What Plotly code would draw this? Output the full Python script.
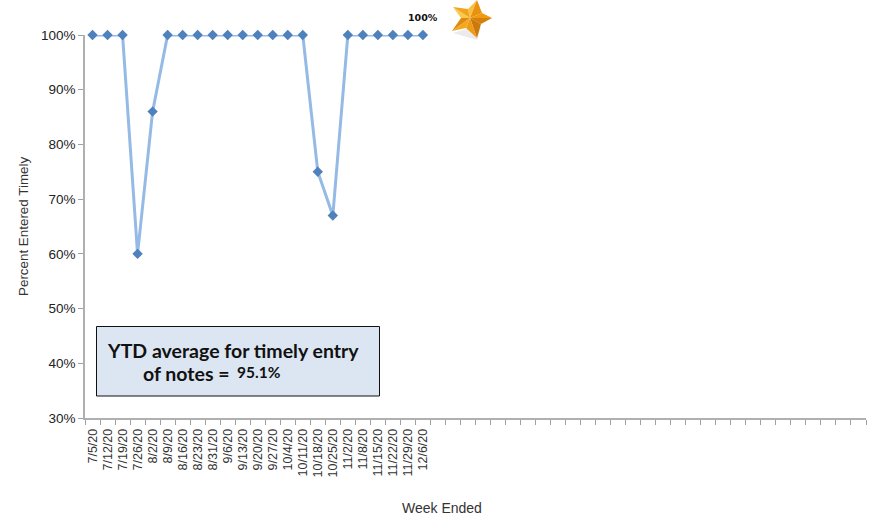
import plotly.graph_objects as go

weeks = ["7/5/20","7/12/20","7/19/20","7/26/20","8/2/20","8/9/20","8/16/20","8/23/20",
         "8/31/20","9/6/20","9/13/20","9/20/20","9/27/20","10/4/20","10/11/20","10/18/20",
         "10/25/20","11/2/20","11/8/20","11/15/20","11/22/20","11/29/20","12/6/20"]
percent = [100,100,100,60,86,100,100,100,100,100,100,100,100,100,100,75,67,100,100,100,100,100,100]
y_ticks = [30,40,50,60,70,80,90,100]
total_slots = 52
blank_slots = ["\u00a0" * (i + 1) for i in range(total_slots - len(weeks))]

W, H = 877, 515
L, R, T, B = 85, 866, 35, 418
px = lambda x: (x - L) / (R - L)
py = lambda y: (B - y) / (B - T)

def path(points):
    return "M " + " L ".join(f"{px(x):.5f},{py(y):.5f}" for x, y in points) + " Z"

fig = go.Figure(go.Scatter(
    x=weeks, y=percent, mode="lines+markers",
    line=dict(color="#95BAE6", width=3),
    marker=dict(symbol="diamond", size=8, color="#4F81BD"),
    cliponaxis=False, showlegend=False, hoverinfo="skip",
))

c = (470, 18)
tips = [(477, 0), (492, 18), (477, 38), (452, 31), (453, 7)]
inner = [(482, 13), (481, 24), (466, 28), (461, 18), (468, 9)]
light = ["#F9C040", "#F09A10", "#C97A0A", "#F5A81E", "#FBC84E"]
dark = ["#E8920F", "#D67F0A", "#EE9C14", "#DE8A0C", "#EFA51C"]
shapes = [dict(type="path", xref="paper", yref="paper",
               path=path([(453, 33), (477, 40), (481, 27), (466, 29)]),
               fillcolor="rgba(120,120,120,0.15)", line_width=0, layer="above")]
for i in range(5):
    shapes.append(dict(type="path", xref="paper", yref="paper",
                       path=path([c, inner[i - 1], tips[i]]),
                       fillcolor=light[i], line_width=0, layer="above"))
    shapes.append(dict(type="path", xref="paper", yref="paper",
                       path=path([c, tips[i], inner[i]]),
                       fillcolor=dark[i], line_width=0, layer="above"))
shapes.append(dict(type="rect", xref="paper", yref="paper",
                   x0=px(96.5), x1=px(379.5), y0=py(396), y1=py(326.5),
                   fillcolor="#DCE6F2", line=dict(color="#111111", width=1), layer="above"))

def note(text, x, y, size, family="Lato", bold=True):
    return dict(text=f"<b>{text}</b>" if bold else text, xref="paper", yref="paper",
                x=px(x), y=py(y), xanchor="left", yanchor="middle", showarrow=False,
                font=dict(family=family, size=size, color="#111111"))

annotations = [
    note("YTD average for timely entry", 105, 350, 19.5),
    note("of notes =", 141, 373, 19.5),
    note("95.1%", 235, 372, 15.5),
    note("100%", 406, 18, 9.5, family="DejaVu Sans"),
    dict(text="Week Ended", xref="paper", yref="paper", x=px(442), y=py(508),
         xanchor="center", yanchor="middle", showarrow=False,
         font=dict(family="Liberation Sans", size=14, color="#333333")),
    dict(text="Percent Entered Timely", xref="paper", yref="paper", x=px(23), y=py(227),
         xanchor="center", yanchor="middle", textangle=-90, showarrow=False,
         font=dict(family="Liberation Sans", size=13.4, color="#333333")),
]

fig.update_layout(
    width=W, height=H, paper_bgcolor="white", plot_bgcolor="white",
    margin=dict(l=L, r=W - R, t=T, b=H - B, autoexpand=False),
    shapes=shapes, annotations=annotations,
    xaxis=dict(type="category", categoryorder="array", categoryarray=weeks + blank_slots,
               range=[-0.5, total_slots - 0.5], tickmode="linear", tick0=0, dtick=1,
               tickson="boundaries", ticks="outside", ticklen=5, tickwidth=1, tickcolor="#A0A0A0",
               showline=True, linecolor="#B0B0B0", linewidth=1.5, showgrid=False, zeroline=False,
               ticklabelstandoff=4,
               tickangle=-90, tickfont=dict(family="Liberation Sans", size=12.5, color="#333333")),
    yaxis=dict(range=[30, 100], tickmode="array", tickvals=y_ticks,
               ticktext=[f"{v}%" for v in y_ticks],
               ticks="outside", ticklen=5, tickwidth=1, tickcolor="#A0A0A0",
               showline=True, linecolor="#B0B0B0", linewidth=1.5, showgrid=False, zeroline=False,
               tickfont=dict(family="Liberation Sans", size=13.5, color="#222222")),
)
fig.write_html("out.html", post_script="document.body.style.margin='0';",
               config={"displayModeBar": False})
